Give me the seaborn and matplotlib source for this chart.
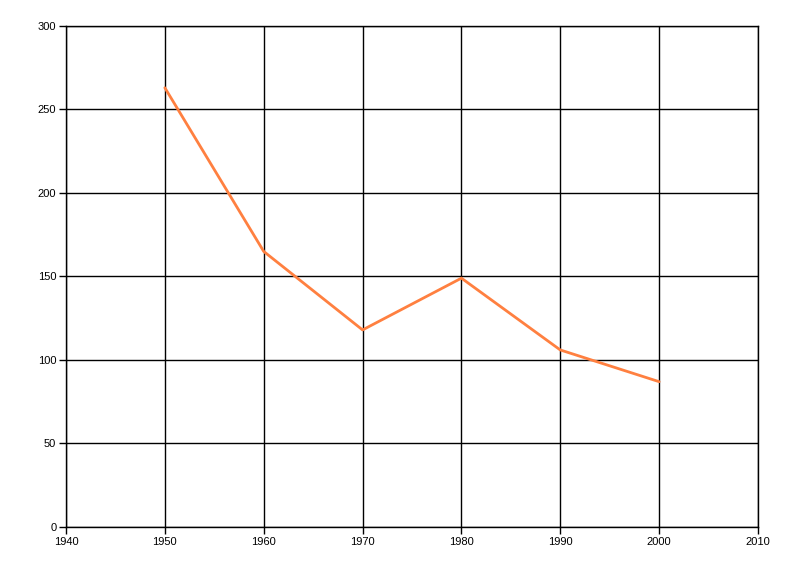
import matplotlib
matplotlib.use("Agg")
import matplotlib.pyplot as plt
import seaborn as sns
import pandas as pd

years = [1950, 1960, 1970, 1980, 1990, 2000]
values = [263, 165, 118, 149, 106, 87]
x_ticks = [1940, 1950, 1960, 1970, 1980, 1990, 2000, 2010]
y_ticks = [0, 50, 100, 150, 200, 250, 300]

sns.set_style("white")
plt.rcParams['font.family'] = ['Liberation Sans', 'DejaVu Sans']

df = pd.DataFrame({"year": years, "value": values})

fig = plt.figure(figsize=(8, 5.76), dpi=100)
ax = fig.add_axes([0.0825, 0.0851, 0.865, 0.8698])

sns.lineplot(data=df, x="year", y="value", ax=ax, color="#FF8040", linewidth=2, zorder=3)

ax.set_xlim(1940, 2010)
ax.set_ylim(0, 300)
ax.set_xticks(x_ticks)
ax.set_yticks(y_ticks)
ax.set_xticklabels([str(t) for t in x_ticks])
ax.set_yticklabels([str(t) for t in y_ticks])
ax.grid(True, color="black", linewidth=1)
ax.set_axisbelow(True)
for s in ax.spines.values():
    s.set_color("black")
    s.set_linewidth(1)
ax.tick_params(axis="both", which="both", length=5, width=1, color="black",
               labelsize=8, labelcolor="black", direction="out", pad=2)
ax.tick_params(axis="x", bottom=True)
ax.tick_params(axis="y", left=True)
ax.set_xlabel("")
ax.set_ylabel("")

fig.savefig("out.png", dpi=100)
